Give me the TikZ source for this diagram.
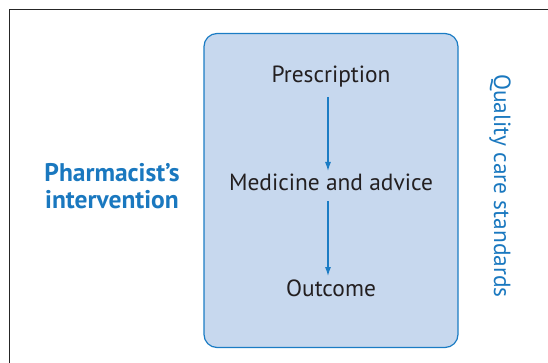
\documentclass[tikz,border=0pt]{standalone}
\usepackage{fontspec}
\setmainfont{PT Sans}
\usetikzlibrary{arrows.meta}
\definecolor{boxfill}{HTML}{C7D8EE}
\definecolor{boxline}{HTML}{1B7CC4}
\definecolor{bluetext}{HTML}{1A78BF}
\definecolor{darktext}{HTML}{231F20}
\tikzset{
  steplabel/.style={text=darktext, font=\fontsize{23.4}{28}\selectfont, inner sep=0pt, anchor=base},
  sidelabel/.style={text=bluetext, font=\fontsize{25.5}{30}\selectfont\bfseries, inner sep=0pt, anchor=base},
  flowarrow/.style={draw=boxline, line width=1.1pt, -{Latex[length=9pt,width=6pt]}},
}
\begin{document}
\begin{tikzpicture}[x=1pt,y=-1pt]
\useasboundingbox (0,0) rectangle (548,363);
\draw[line width=1.2pt, draw=black!85] (9.5,363.5) -- (9.5,9.5) -- (548.5,9.5);
\draw[fill=boxfill, draw=boxline, line width=1.2pt, rounded corners=13pt] (204,33.5) rectangle (458,347.5);
\node[steplabel] (p) at (331,83) {Prescription};
\node[steplabel] (m) at (331,191) {Medicine and advice};
\node[steplabel] (o) at (331,296) {Outcome};
\coordinate (a1s) at (328,97);
\coordinate (a1e) at (328,171);
\coordinate (a2s) at (328,201);
\coordinate (a2e) at (328,276);
\draw[flowarrow] (a1s) -- (a1e);
\draw[flowarrow] (a2s) -- (a2e);
\node[sidelabel] (pi1) at (112,182) {Pharmacist’s};
\node[sidelabel] (pi2) at (112,208) {intervention};
\node[text=bluetext, font=\fontsize{23.4}{28}\selectfont, rotate=-90, inner sep=0pt] (q) at (500,186) {Quality care standards};
\end{tikzpicture}
\end{document}
